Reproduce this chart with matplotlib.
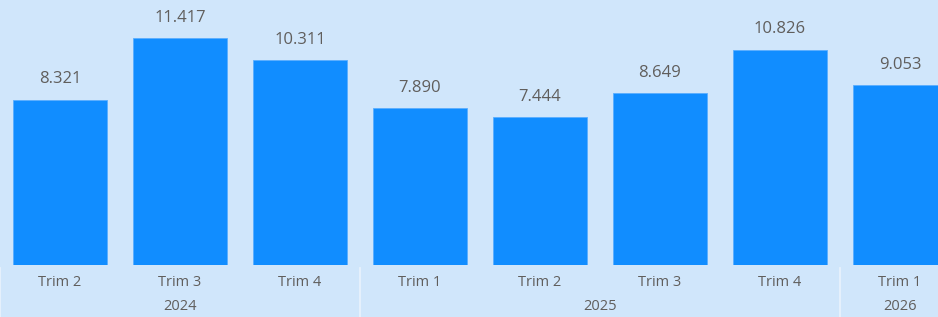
import matplotlib
matplotlib.use("Agg")
import matplotlib.pyplot as plt
import matplotlib.transforms as mtransforms

# datos
trimestres = ["Trim 2", "Trim 3", "Trim 4", "Trim 1", "Trim 2", "Trim 3", "Trim 4", "Trim 1"]
anios = ["2024", "2025", "2026"]
anio_pos = [1, 4.5, 7]
separadores = [-0.5, 2.5, 6.5]
valores = [8.321, 11.417, 10.311, 7.890, 7.444, 8.649, 10.826, 9.053]
etiquetas = ["8.321", "11.417", "10.311", "7.890", "7.444", "8.649", "10.826", "9.053"]

fondo = "#D0E6FB"
azul = "#118DFF"
gris = "#605E5C"

plt.rcParams["font.family"] = ["Open Sans", "DejaVu Sans"]

fig = plt.figure(figsize=(9.38, 3.17), dpi=100, facecolor=fondo)
ax = fig.add_axes([0, 0.164, 1, 0.836])
ax.set_facecolor(fondo)

x = list(range(len(valores)))
ax.bar(x, valores, width=0.78, color=azul, edgecolor="#5AAEFF", linewidth=0.6)

for xi, v, t in zip(x, valores, etiquetas):
    ax.annotate(t, (xi, v), xytext=(0, 9), textcoords="offset points",
                ha="center", va="bottom", fontsize=12, color=gris)

ax.set_xlim(-0.5, 7.317)
ax.set_ylim(0, 13.33)
ax.set_yticks([])
ax.set_xticks(x)
ax.set_xticklabels(trimestres, fontsize=10.5, color=gris)
ax.tick_params(axis="x", length=0, pad=7)
for s in ax.spines.values():
    s.set_visible(False)

trans = mtransforms.blended_transform_factory(ax.transData, ax.transAxes)
for a, p in zip(anios, anio_pos):
    ax.text(p, -0.155, a, transform=trans, ha="center", va="center",
            fontsize=10.5, color=gris)
for s in separadores:
    ax.plot([s, s], [-0.01, -0.25], transform=trans, color="#EAF3FD",
            linewidth=1.2, clip_on=False)

fig.savefig("out.png", dpi=100, facecolor=fondo)
